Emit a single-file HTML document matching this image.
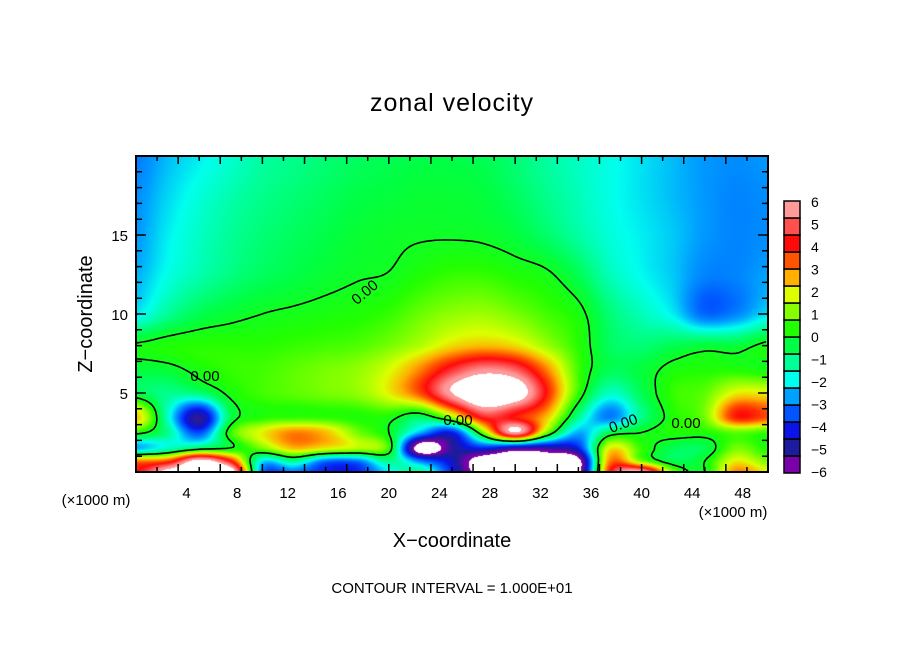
<!DOCTYPE html>
<html><head><meta charset="utf-8"><style>
body{margin:0;background:#fff;width:904px;height:654px;overflow:hidden;font-family:"Liberation Sans",sans-serif}
#wrap{position:relative;width:904px;height:654px}
canvas{position:absolute;left:136px;top:156px}
svg{position:absolute;left:0;top:0}
</style></head><body><div id="wrap">
<canvas id="cv" width="632" height="316"></canvas>
<svg id="sv" width="904" height="654"></svg>
</div>
<script>
const xCols=[0,2.5,5,7.5,10,12.5,15,17.5,20,22.5,25,27.5,30,32.5,35,37.5,40,42.5,45,47.5,50];
const zLevels=[20,17.5,15,12.5,10,8,6.5,5,3.5,2.5,1.5,0.7,0];
const r20=[-3,-2.4,-2,-1.6,-1.2,-1,-0.8,-0.6,-0.5,-0.4,-0.4,-0.5,-0.8,-1.2,-1.5,-1.8,-2.1,-2.4,-2.7,-2.8,-2.7];
const r175=[-2.8,-2.2,-1.7,-1.3,-1,-0.8,-0.6,-0.4,-0.3,-0.2,-0.2,-0.3,-0.6,-1,-1.4,-1.8,-2.1,-2.4,-2.7,-2.9,-2.8];
const r15=[-2.7,-2,-1.5,-1.1,-0.8,-0.6,-0.4,-0.2,-0.1,-0.05,-0.05,-0.1,-0.3,-0.7,-1.2,-1.7,-2,-2.3,-2.7,-2.9,-2.8];
const r125=[-2.5,-1.8,-1.3,-0.9,-0.6,-0.4,-0.2,-0.05,0.02,0.3,0.5,0.5,0.3,0.1,-0.5,-1.4,-1.9,-2.3,-2.9,-2.9,-2.6];
const r10=[-2,-1.1,-0.5,-0.2,0,0.1,0.2,0.3,0.5,0.9,1.2,1.3,1,0.6,0.2,-0.8,-1.4,-2,-3.2,-2.9,-2.1];
const r8=[0.1,0.3,0.4,0.4,0.4,0.5,0.6,0.7,1,1.5,2.2,2.5,2.2,1.3,0.4,-0.6,-0.8,-0.5,-0.3,-0.3,0.2];
const r65=[-0.3,-0.2,0.2,0.5,0.6,0.8,1,1.2,1.8,3,4.5,5.5,5,3,0.6,-0.5,-0.3,0.2,0.3,0.3,0.1];
const r5=[-0.5,-1,-0.8,0.2,0.6,0.8,1,1.2,2,3.5,6,7.5,7,4,0.5,-1.5,-0.5,0.5,0.8,2,2];
const r35=[2.5,-1.5,-5,-0.5,0.3,0.4,0.4,0.3,0.3,-0.5,1.5,4.5,4,2.5,-1,-3,-1,0.3,1,4,3.5];
const r25=[0.3,-1,-3.5,0.5,2,3,2.5,1,0,-2.5,-4,1,6,1,-2.5,-0.5,0,0.3,0.3,0.8,0.5];
const r15b=[-2.5,-1.5,-0.5,0,1,2.5,2,1.5,0.5,-7,-5,-4,-5,-5,-4,2,0.5,-0.5,-0.5,1,0.3];
const r07=[3,3.5,6.5,4,-2,-1,-3,-3,-1,-3,-4.5,-7,-7,-7,-6.5,3,1,-0.5,0,2,1];
const r0=[4,6.5,7,7,-3,-3,-4,-4,-2,-1,-4,-7,-7,-7,-6.5,4,6,1,0,3,2];
const rows=[r20,r175,r15,r125,r10,r8,r65,r5,r35,r25,r15b,r07,r0];
const xTickLabels=[4,8,12,16,20,24,28,32,36,40,44,48];
const yTickLabels=[5,10,15];
const cbarLabels=[6,5,4,3,2,1,0,-1,-2,-3,-4,-5,-6];
const cmap=["#7a00aa","#1c1c9c","#0a14e8","#0055ff","#00a0ff","#00ffee","#00ff99","#00ff44","#22ff00","#88ff00","#ddff00","#ffb000","#ff5500","#ff0a0a","#ff5050","#ff9a9a"];

const L=136,T=156,W=632,H=316;
function xs(v){return L+v*W/50;}
function zs(v){return T+H-v*H/20;}
function cr(p0,p1,p2,p3,t){return 0.5*((2*p1)+(-p0+p2)*t+(2*p0-5*p1+4*p2-p3)*t*t+(-p0+3*p1-3*p2+p3)*t*t*t);}
function rowAt(r,fi){const i=Math.floor(fi),t=fi-i,n=r.length-1;
  const g=k=>r[Math.min(n,Math.max(0,k))];return cr(g(i-1),g(i),g(i+1),g(i+2),t);}
function field(x,z){
  let fi=Math.min(Math.max(x/2.5,0),19.9999);
  let j=0;while(j<zLevels.length-2&&z<zLevels[j+1])j++;
  let tz=(zLevels[j]-z)/(zLevels[j]-zLevels[j+1]);tz=Math.min(Math.max(tz,0),1);
  const n=rows.length-1,R=k=>rowAt(rows[Math.min(n,Math.max(0,k))],fi);
  return cr(R(j-1),R(j),R(j+1),R(j+2),tz);
}
function hex(c){return [parseInt(c.substr(1,2),16),parseInt(c.substr(3,2),16),parseInt(c.substr(5,2),16)];}
const rgb=cmap.map(hex);
function color(v){
  if(v>6||v<-6)return [255,255,255];
  let f=(v+6)/0.75-0.5;f=Math.min(15,Math.max(0,f));
  const k=Math.min(14,Math.floor(f)),t=f-k;
  return [0,1,2].map(c=>Math.round(rgb[k][c]*(1-t)+rgb[k+1][c]*t));
}
const cv=document.getElementById('cv'),ctx=cv.getContext('2d'),img=ctx.createImageData(W,H);
for(let py=0;py<H;py++)for(let px=0;px<W;px++){
  const v=field((px+0.5)*50/W,20-(py+0.5)*20/H);const c=color(v);
  const o=(py*W+px)*4;img.data[o]=c[0];img.data[o+1]=c[1];img.data[o+2]=c[2];img.data[o+3]=255;
}
ctx.putImageData(img,0,0);

const NS="http://www.w3.org/2000/svg",sv=document.getElementById('sv');
function el(t,a,txt){const e=document.createElementNS(NS,t);for(const k in a)e.setAttribute(k,a[k]);if(txt!==undefined)e.textContent=txt;sv.appendChild(e);return e;}
const st=3,nx=Math.floor(W/st),ny=Math.floor(H/st);const g=[];
for(let j=0;j<=ny;j++){g[j]=[];for(let i=0;i<=nx;i++)g[j][i]=field(i*st*50/W,20-j*st*20/H);}
let d="";
function lerp(a,b){return a/(a-b);}
for(let j=0;j<ny;j++)for(let i=0;i<nx;i++){
  const a=g[j][i],b=g[j][i+1],c=g[j+1][i+1],e=g[j+1][i];
  const pts=[];
  if((a>0)!=(b>0))pts.push([i+lerp(a,b),j]);
  if((b>0)!=(c>0))pts.push([i+1,j+lerp(b,c)]);
  if((c>0)!=(e>0))pts.push([i+1-lerp(c,e),j+1]);
  if((e>0)!=(a>0))pts.push([i,j+1-lerp(e,a)]);
  for(let k=0;k+1<pts.length;k+=2)d+=`M${(L+pts[k][0]*st).toFixed(1)},${(T+pts[k][1]*st).toFixed(1)}L${(L+pts[k+1][0]*st).toFixed(1)},${(T+pts[k+1][1]*st).toFixed(1)}`;
}
const cp=el('path',{d:d,stroke:'#000','stroke-width':1.6,fill:'none'});


[[368,296,-40,"0.00"],[205,381,0,"0.00"],[458,425,0,"0.00"],[625,428,-20,"0.00"],[686,428,0,"0.00"]].forEach(p=>{
  const t=el('text',{x:p[0],y:p[1],'font-size':15,'text-anchor':'middle',transform:`rotate(${p[2]} ${p[0]} ${p[1]})`,fill:'#000'},p[3]);
  
  
});
const fr=el('rect',{x:L,y:T,width:W,height:H,fill:'none',stroke:'#000','stroke-width':2});


let td="";
for(let k=1;k<30;k++){const x=L+k*W/30,len=(k%2==0)?8:5;td+=`M${x},${T+H}v${-len}M${x},${T}v${len}`;}
for(let k=1;k<20;k++){const y=zs(k),len=(k%5==0)?10:6;td+=`M${L},${y}h${len}M${L+W},${y}h${-len}`;}
const tk=el('path',{d:td,stroke:'#000','stroke-width':1.5});


xTickLabels.forEach(v=>{const t=el('text',{x:xs(v),y:498,'font-size':15,'text-anchor':'middle'},String(v));
  
  });
yTickLabels.forEach(v=>{const t=el('text',{x:128,y:zs(v)+6,'font-size':15,'text-anchor':'end'},String(v));
  
  });
for(let k=0;k<16;k++){const r=el('rect',{x:784,y:201+(15-k)*17,width:16,height:17,fill:cmap[k],stroke:'#000','stroke-width':1.5});
  
  }
cbarLabels.forEach((v,k)=>{const t=el('text',{x:811,y:207+k*22.5,'font-size':14},(v<0?"\u2212":"")+Math.abs(v));
  
  });
function T2(x,y,s,txt,name,extra){const t=el('text',Object.assign({x:x,y:y,'font-size':s,'text-anchor':'middle'},extra||{}),txt);
  
  }
T2(452,111,25,"zonal velocity","chart-title",{'letter-spacing':1});
T2(452,547,20,"X\u2212coordinate","x-axis-title");
T2(92,314,20,"Z\u2212coordinate","y-axis-title",{transform:"rotate(-90 92 314)"});
T2(452,593,15,"CONTOUR INTERVAL = 1.000E+01","contour-interval-note");
T2(96,505,15,"(\u00d71000 m)","x-unit-left");
T2(733,517,15,"(\u00d71000 m)","x-unit-right");
</script></body></html>
